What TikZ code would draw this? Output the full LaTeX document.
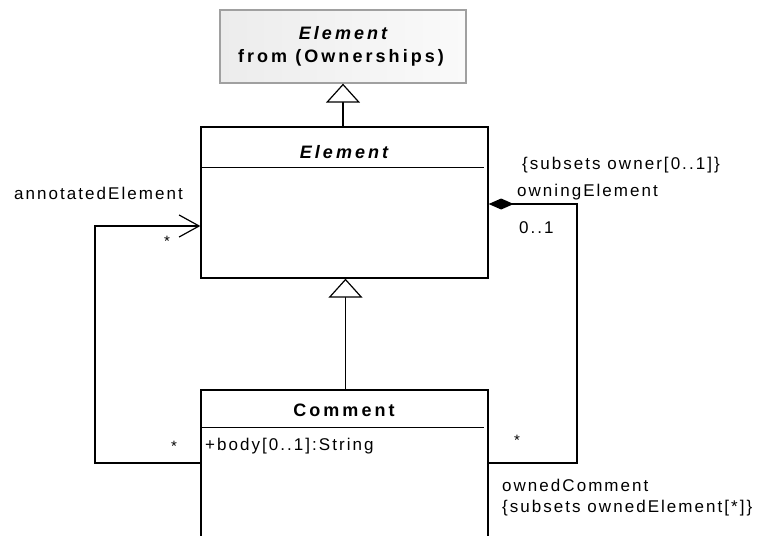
\documentclass[tikz,border=0pt]{standalone}
\usepackage{fontspec}
\setmainfont{Liberation Sans}
\newfontfamily\labfont{Liberation Sans}[LetterSpace=12]
\newfontfamily\hdrfont{Liberation Sans}[LetterSpace=17]
\usetikzlibrary{arrows.meta}
\definecolor{boxgray}{HTML}{A0A0A0}
\definecolor{fillL}{HTML}{ECECEC}
\definecolor{fillR}{HTML}{FAFAFA}
\tikzset{
  classbox/.style={draw=black, line width=1.3pt, fill=white, rectangle, inner sep=0pt, minimum width=287pt},
  extbox/.style={draw=boxgray, line width=1.3pt, rectangle, inner sep=0pt, left color=fillL, right color=fillR},
  lab/.style={inner sep=0pt, font=\labfont\fontsize{17}{20}\selectfont},
  hdr/.style={inner sep=0pt, font=\hdrfont\fontsize{18}{21}\selectfont\bfseries},
  mult/.style={inner sep=0pt, font=\fontsize{15}{17}\selectfont},
  conn/.style={draw=black, line width=1.3pt},
  gen/.style={conn, -{Triangle[open, length=19pt, width=34pt, fill=white, line width=1.2pt]}},
  nav/.style={conn, -{Straight Barb[length=20pt, width=22pt, line width=1.2pt]}},
  comp/.style={conn, {Diamond[length=25pt, width=11pt, fill=black]}-}
}
\begin{document}
\begin{tikzpicture}[x=1pt,y=-1pt]
\useasboundingbox[fill=white] (0,0) rectangle (757,535);
% boxes
\node[extbox, minimum width=246pt, minimum height=73pt] (top) at (343,46.5) {};
\node[classbox, minimum height=151pt] (elem) at (344.5,202.5) {};
\node[classbox, minimum height=160pt] (comm) at (344.5,470) {};
% dividers
\draw[line width=1.2pt] ([xshift=2pt,yshift=-41pt]elem.north west) -- ([xshift=-5pt,yshift=-41pt]elem.north east);
\draw[line width=1.2pt] ([xshift=2pt,yshift=-38pt]comm.north west) -- ([xshift=-5pt,yshift=-38pt]comm.north east);
% texts in boxes
\node[hdr] (topname) at (343,33) {\itshape Element};
\node[hdr] (topfrom) at (341,58) {from (Ownerships)};
\node[hdr] (elemname) at (344,152) {\itshape Element};
\node[hdr] (commname) at (344,410) {Comment};
\node[lab, anchor=west] (body) at (205,446) {+body[0..1]:String};
% generalizations
\coordinate (g2) at (345.5,0);
\draw[gen] (elem.north -| top.south) -- (top.south);
\draw[gen] (comm.north -| g2) -- (elem.south -| g2);
% annotatedElement association
\coordinate (l1) at (95,463);
\coordinate (l2) at (95,226);
\draw[nav] (comm.west |- l1) -- (l1) -- (l2) -- (elem.west |- l2);
% owningElement composition
\coordinate (r1) at (577,204);
\coordinate (r2) at (577,463);
\draw[comp] (elem.east |- r1) -- (r1) -- (r2) -- (comm.east |- r2);
% labels
\node[lab, anchor=west] (annot) at (14,193) {annotatedElement};
\node[mult] (m1) at (167,241) {*};
\node[mult] (m2) at (174,446) {*};
\node[lab, anchor=west] (subown) at (522,165) {\{subsets owner[0..1]\}};
\node[lab, anchor=west] (owning) at (517,192) {owningElement};
\node[lab, anchor=west] (mult01) at (519,228) {0..1};
\node[mult] (m3) at (517,440) {*};
\node[lab, anchor=west] (ownedc) at (502,485) {ownedComment};
\node[lab, anchor=west] (subowned) at (502,508) {\{subsets ownedElement[*]\}};
\end{tikzpicture}
\end{document}
